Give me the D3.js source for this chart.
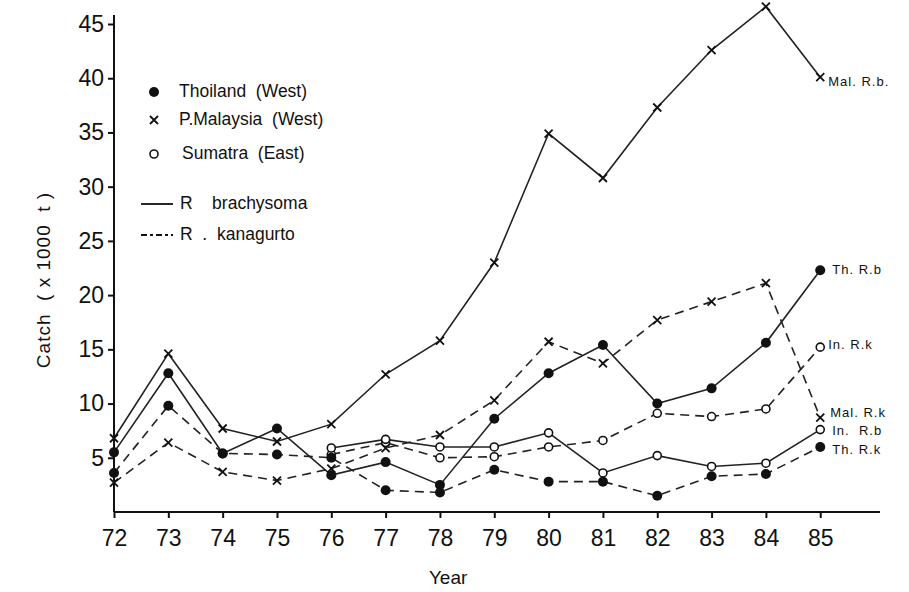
<!DOCTYPE html>
<html>
<head>
<meta charset="utf-8">
<script src="https://cdn.jsdelivr.net/npm/d3@7"></script>
<style>
  body { margin: 0; background: #fff; }
  text { font-family: "Liberation Sans", Arial, sans-serif; fill: #111; white-space: pre; }
</style>
</head>
<body>
<div id="chart"></div>
<script>
// years on the x axis
const years = [72, 73, 74, 75, 76, 77, 78, 79, 80, 81, 82, 83, 84, 85];
const sumatraYears = [76, 77, 78, 79, 80, 81, 82, 83, 84, 85];
const yTicks = [5, 10, 15, 20, 25, 30, 35, 40, 45];

// catch (x1000 t)
const thaiRb = [5.5, 12.8, 5.4, 7.7, 3.4, 4.6, 2.5, 8.6, 12.8, 15.4, 10.0, 11.4, 15.6, 22.3];
const thaiRk = [3.6, 9.8, 5.4, 5.3, 5.0, 2.0, 1.8, 3.9, 2.8, 2.8, 1.5, 3.3, 3.5, 6.0];
const malRb  = [6.8, 14.6, 7.7, 6.5, 8.1, 12.7, 15.8, 23.0, 34.9, 30.8, 37.3, 42.6, 46.6, 40.1];
const malRk  = [2.7, 6.4, 3.7, 2.9, 4.0, 5.9, 7.1, 10.3, 15.7, 13.7, 17.7, 19.4, 21.1, 8.7];
const sumRb  = [5.9, 6.7, 6.0, 6.0, 7.3, 3.6, 5.2, 4.2, 4.5, 7.6];
const sumRk  = [5.3, 6.4, 5.0, 5.1, 6.0, 6.6, 9.1, 8.8, 9.5, 15.2];

const series = [
  {x: years, y: malRb,  marker: "cross",  dashed: false, label: "Mal. R.b.", ldx: 8, ldy: 5},
  {x: years, y: thaiRb, marker: "filled", dashed: false, label: "Th. R.b", ldx: 12, ldy: 0},
  {x: sumatraYears, y: sumRk, marker: "open", dashed: true, label: "In. R.k", ldx: 8, ldy: -2},
  {x: years, y: malRk,  marker: "cross",  dashed: true, label: "Mal. R.k", ldx: 10, ldy: -4},
  {x: sumatraYears, y: sumRb, marker: "open", dashed: false, label: "In.  R.b", ldx: 12, ldy: 2},
  {x: years, y: thaiRk, marker: "filled", dashed: true, label: "Th. R.k", ldx: 12, ldy: 4}
];

const width = 909, height = 592;
const svg = d3.select("#chart").append("svg")
  .attr("width", width).attr("height", height);

const x = d3.scaleLinear().domain([72, 86.1]).range([114, 880]);
const y = d3.scaleLinear().domain([0, 45]).range([512, 24]);

// axes
const yAxis = d3.axisLeft(y).tickValues(yTicks).tickSize(6).tickPadding(4).tickFormat(d3.format("d"));
const xAxis = d3.axisBottom(x).tickValues(years).tickSize(6).tickPadding(12).tickFormat(d3.format("d"));

const gy = svg.append("g").attr("transform", "translate(114,0)").call(yAxis);
gy.select(".domain").attr("d", "M0,15V512");
const gx = svg.append("g").attr("transform", "translate(0,512)").call(xAxis);
gx.select(".domain").attr("d", "M114,0H880");

svg.selectAll(".domain, .tick line").attr("stroke", "#111").attr("stroke-width", 2);
svg.selectAll(".tick text").style("font-size", "23px").style("font-family", "'Liberation Sans', Arial, sans-serif").attr("fill", "#111");

svg.append("text")
  .attr("transform", "translate(50,280) rotate(-90)")
  .attr("text-anchor", "middle")
  .style("font-size", "19px")
  .style("letter-spacing", "1px")
  .text("Catch  ( x 1000  t )");

svg.append("text")
  .attr("x", x(78.15)).attr("y", 584)
  .attr("text-anchor", "middle")
  .style("font-size", "19px")
  .text("Year");

const line = d3.line().x(d => x(d[0])).y(d => y(d[1]));

function drawMarker(g, kind, cx, cy) {
  if (kind === "filled") {
    g.append("circle").attr("cx", cx).attr("cy", cy).attr("r", 5).attr("fill", "#111");
  } else if (kind === "open") {
    g.append("circle").attr("cx", cx).attr("cy", cy).attr("r", 4)
      .attr("fill", "#fff").attr("stroke", "#111").attr("stroke-width", 1.6);
  } else {
    const s = 4;
    g.append("path")
      .attr("d", `M${cx - s},${cy - s}L${cx + s},${cy + s}M${cx - s},${cy + s}L${cx + s},${cy - s}`)
      .attr("stroke", "#111").attr("stroke-width", 1.8);
  }
}

series.forEach(s => {
  const pts = s.x.map((yr, i) => [yr, s.y[i]]);
  const g = svg.append("g");
  g.append("path")
    .datum(pts)
    .attr("d", line)
    .attr("fill", "none")
    .attr("stroke", "#222")
    .attr("stroke-width", 1.6)
    .attr("stroke-dasharray", s.dashed ? "9,6" : null);
  pts.forEach(p => drawMarker(g, s.marker, x(p[0]), y(p[1])));
  const last = pts[pts.length - 1];
  g.append("text")
    .attr("x", x(last[0]) + s.ldx)
    .attr("y", y(last[1]) + s.ldy)
    .attr("dominant-baseline", "middle")
    .style("font-size", "13px")
    .style("letter-spacing", "1px")
    .text(s.label);
});

// legend
const legend = svg.append("g");
const countries = [
  {name: "Thoiland  (West)", marker: "filled", y: 92},
  {name: "P.Malaysia  (West)", marker: "cross", y: 120},
  {name: "Sumatra  (East)", marker: "open", y: 154}
];
countries.forEach(c => {
  drawMarker(legend, c.marker, 154, c.y);
  legend.append("text").attr("x", c.name.startsWith("Sumatra") ? 182 : 179).attr("y", c.y)
    .attr("dominant-baseline", "middle").style("font-size", "17.5px").text(c.name);
});
const species = [
  {name: "R    brachysoma", dashed: false, y: 204},
  {name: "R  .  kanagurto", dashed: true, y: 235}
];
species.forEach(sp => {
  legend.append("line").attr("x1", 141).attr("x2", 173).attr("y1", sp.y).attr("y2", sp.y)
    .attr("stroke", "#111").attr("stroke-width", 1.8)
    .attr("stroke-dasharray", sp.dashed ? "6,3,3,3" : null);
  legend.append("text").attr("x", 180).attr("y", sp.y)
    .attr("dominant-baseline", "middle").style("font-size", "17.5px").text(sp.name);
});
</script>
</body>
</html>
